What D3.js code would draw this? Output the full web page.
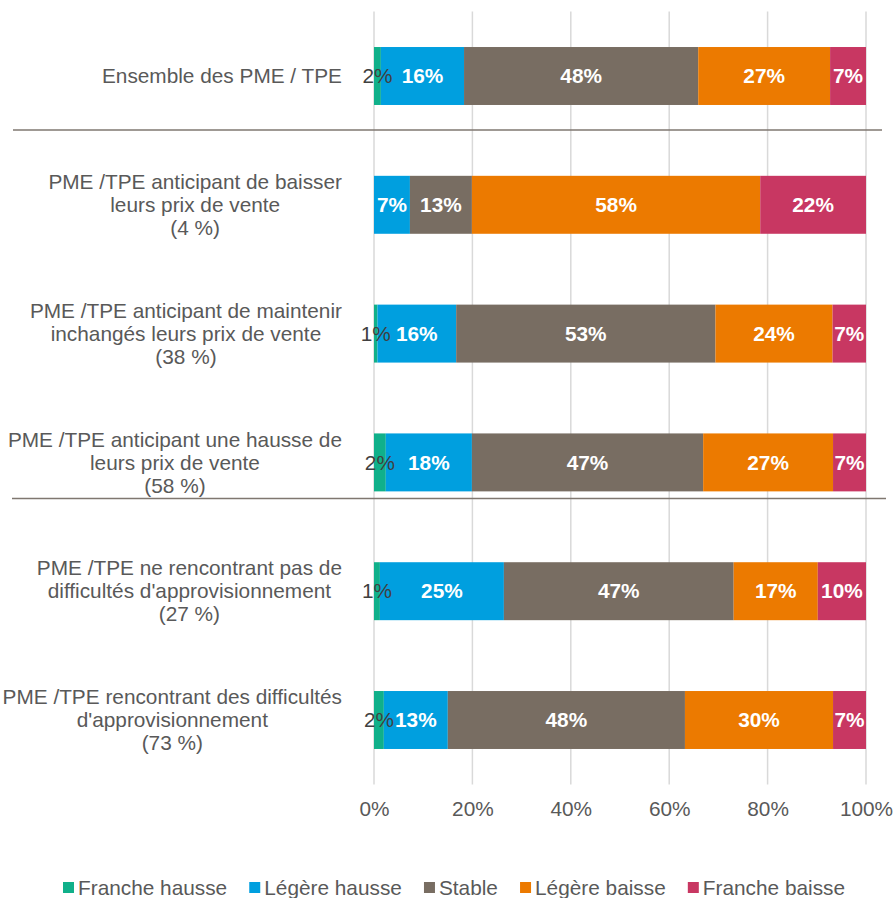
<!DOCTYPE html>
<html>
<head>
<meta charset="utf-8">
<script src="https://cdn.jsdelivr.net/npm/d3@7"></script>
<style>
  body { margin: 0; background: #fff; }
  text { font-family: Arial, "Liberation Sans", sans-serif; }
</style>
</head>
<body>
<svg id="chart"></svg>
<script>
const width = 894
const height = 898
const fontSize = 20.8

// rows, top to bottom; each label is a list of lines
const categories = [
  ["Ensemble des PME / TPE"],
  ["PME /TPE anticipant de baisser", "leurs prix de vente", "(4 %)"],
  ["PME /TPE anticipant de maintenir", "inchangés leurs prix de vente", "(38 %)"],
  ["PME /TPE anticipant une hausse de", "leurs prix de vente", "(58 %)"],
  ["PME /TPE ne rencontrant pas de", "difficultés d'approvisionnement", "(27 %)"],
  ["PME /TPE rencontrant des difficultés", "d'approvisionnement", "(73 %)"]
]

const seriesNames = ["Franche hausse", "Légère hausse", "Stable", "Légère baisse", "Franche baisse"]
const colors = ["#10b08a", "#009fdf", "#786d62", "#ec7a00", "#c83762"]

// shares in %, per row (same order as categories)
const francheHausse = [1.4, 0, 0.7, 2.4, 1.2, 2.0]
const legereHausse  = [16.9, 7.3, 16.0, 17.5, 25.2, 13.0]
const stable        = [47.6, 12.6, 52.7, 47.0, 46.7, 48.2]
const legereBaisse  = [26.8, 58.6, 23.8, 26.4, 17.1, 30.1]
const francheBaisse = [7.3, 21.5, 6.8, 6.7, 9.8, 6.7]

// printed labels
const labelFH = ["2%", "", "1%", "2%", "1%", "2%"]
const labelLH = ["16%", "7%", "16%", "18%", "25%", "13%"]
const labelST = ["48%", "13%", "53%", "47%", "47%", "48%"]
const labelLB = ["27%", "58%", "24%", "27%", "17%", "30%"]
const labelFB = ["7%", "22%", "7%", "7%", "10%", "7%"]

const xTicks = [0, 20, 40, 60, 80, 100]

// separator lines drawn below these rows
const separators = [0, 3]

const values = [francheHausse, legereHausse, stable, legereBaisse, francheBaisse]
const labels = [labelFH, labelLH, labelST, labelLB, labelFB]

const rows = categories.map((c, i) => {
  const r = { id: i }
  seriesNames.forEach((s, k) => { r[s] = values[k][i] })
  return r
})

const stack = d3.stack().keys(seriesNames)(rows)

const x = d3.scaleLinear().domain([0, 100]).range([374, 866])
const y = d3.scaleBand()
  .domain(d3.range(categories.length))
  .range([11.6, 784.4])
  .paddingInner(0.55)
  .paddingOuter(0.275)

const svg = d3.select("#chart")
  .attr("width", width)
  .attr("height", height)

// gridlines
svg.append("g")
  .selectAll("line")
  .data(xTicks)
  .join("line")
  .attr("x1", d => x(d)).attr("x2", d => x(d))
  .attr("y1", y.range()[0]).attr("y2", y.range()[1])
  .attr("stroke", "#d9d9d9")
  .attr("stroke-width", 1.5)

// tick labels
svg.append("g")
  .attr("transform", `translate(0,${y.range()[1] + 14})`)
  .call(d3.axisBottom(x).tickValues(xTicks).tickFormat(d => d + "%").tickSize(0))
  .call(g => g.select(".domain").remove())
  .call(g => g.selectAll("text")
    .attr("fill", "#595959")
    .attr("font-size", fontSize)
    .attr("font-family", "Arial, 'Liberation Sans', sans-serif"))

// bars
const layer = svg.append("g")
  .selectAll("g")
  .data(stack)
  .join("g")
  .attr("fill", (d, k) => colors[k])

layer.selectAll("rect")
  .data(d => d)
  .join("rect")
  .attr("x", d => x(d[0]))
  .attr("width", d => x(d[1]) - x(d[0]))
  .attr("y", d => y(d.data.id))
  .attr("height", y.bandwidth())

// value labels
stack.forEach((s, k) => {
  svg.append("g")
    .selectAll("text")
    .data(s)
    .join("text")
    .attr("x", d => (x(d[0]) + x(d[1])) / 2)
    .attr("y", d => y(d.data.id) + y.bandwidth() / 2)
    .attr("dy", "0.35em")
    .attr("text-anchor", "middle")
    .attr("font-size", fontSize)
    .attr("font-weight", k === 0 ? "normal" : "bold")
    .attr("fill", k === 0 ? "#404040" : "#ffffff")
    .text(d => labels[k][d.data.id])
})

// category labels: block right-aligned at 342, lines centred inside it
const lineH = 23
categories.forEach((lines, i) => {
  const g = svg.append("g")
  const cy = y(i) + y.bandwidth() / 2
  const t = g.selectAll("text")
    .data(lines)
    .join("text")
    .attr("y", (d, j) => cy + (j - (lines.length - 1) / 2) * lineH)
    .attr("dy", "0.35em")
    .attr("text-anchor", "middle")
    .attr("font-size", fontSize)
    .attr("fill", "#595959")
    .text(d => d)
  const w = d3.max(t.nodes(), n => n.getComputedTextLength())
  t.attr("x", 342 - w / 2)
})

// separators
svg.append("g")
  .selectAll("line")
  .data(separators)
  .join("line")
  .attr("x1", (d, i) => i === 0 ? 13 : 12)
  .attr("x2", (d, i) => i === 0 ? 882 : 886)
  .attr("y1", (d, i) => y(d) + y.bandwidth() + (i === 0 ? 25 : 7))
  .attr("y2", (d, i) => y(d) + y.bandwidth() + (i === 0 ? 25 : 7))
  .attr("stroke", "#7f7770")
  .attr("stroke-width", 1.5)

// legend
const legend = svg.append("g").attr("transform", "translate(0,888)")
const items = legend.selectAll("g")
  .data(seriesNames)
  .join("g")
items.append("rect")
  .attr("y", -6).attr("width", 11).attr("height", 11)
  .attr("fill", (d, k) => colors[k])
items.append("text")
  .attr("x", 15)
  .attr("dy", "0.35em")
  .attr("font-size", fontSize)
  .attr("fill", "#595959")
  .text(d => d)
const widths = items.nodes().map(n => 15 + n.querySelector("text").getComputedTextLength())
const total = 845 - 63
const gap = (total - d3.sum(widths)) / (seriesNames.length - 1)
let cx = 63
items.attr("transform", (d, k) => {
  const t = `translate(${cx},0)`
  cx += widths[k] + gap
  return t
})
</script>
</body>
</html>
